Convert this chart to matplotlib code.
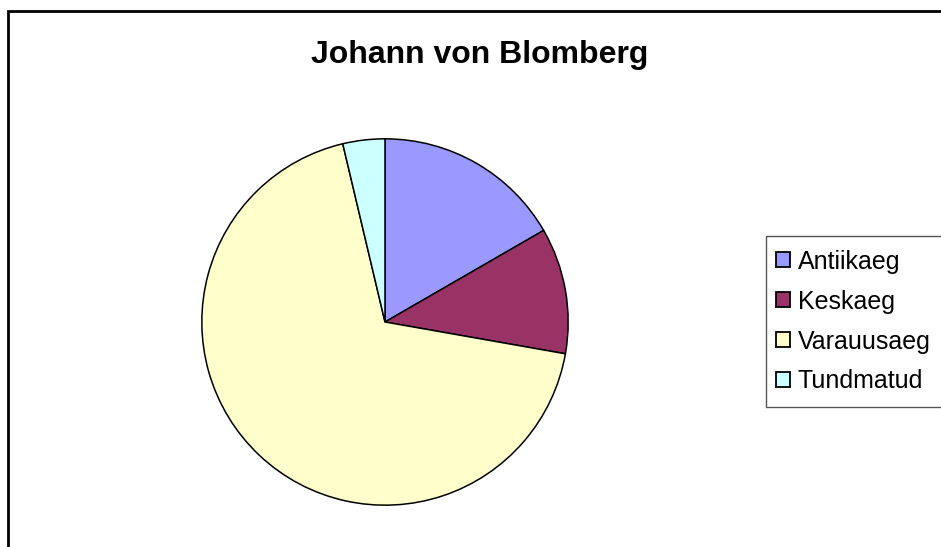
import matplotlib.pyplot as plt
from matplotlib.patches import Rectangle

labels = ["Antiikaeg", "Keskaeg", "Varauusaeg", "Tundmatud"]
values = [9, 6, 37, 2]
colors = ["#9999FF", "#993366", "#FFFFCC", "#CCFFFF"]

plt.rcParams['font.family'] = ['Liberation Sans', 'DejaVu Sans']

W, H = 941, 547
fig = plt.figure(figsize=(W / 100, H / 100), dpi=100)

# outer chart frame (runs off the right and bottom edges)
fig.patches.append(Rectangle((8 / W, -0.05), 1.1, (H - 11) / H + 0.05,
                             transform=fig.transFigure, fill=False,
                             edgecolor="black", linewidth=2))

fig.text(480 / W, 1 - 55 / H, "Johann von Blomberg", ha="center", va="center",
         fontsize=23, fontweight="bold")

cx, cy, r = 385, 322, 185
ax = fig.add_axes([(cx - r) / W, (H - cy - r) / H, 2 * r / W, 2 * r / H])
wedges, _ = ax.pie(values, colors=colors, startangle=90, counterclock=False,
                   radius=1, wedgeprops=dict(edgecolor="black", linewidth=1.1))
ax.set_xlim(-1.01, 1.01)
ax.set_ylim(-1.01, 1.01)
ax.set_axis_off()

# legend box (runs off the right edge)
fig.patches.append(Rectangle((766 / W, 1 - 407 / H), 0.3, (407 - 236) / H,
                             transform=fig.transFigure, facecolor="white",
                             edgecolor="#555555", linewidth=1))
leg = fig.legend(wedges, labels, loc="upper left",
                 bbox_to_anchor=(758 / W, 1 - 232 / H), frameon=False,
                 fontsize=18, handlelength=0.58, handleheight=0.58,
                 handletextpad=0.3, labelspacing=0.64, borderpad=0.2)
for h in leg.legend_handles:
    h.set_linewidth(1.3)

fig.savefig("out.png", dpi=100)
